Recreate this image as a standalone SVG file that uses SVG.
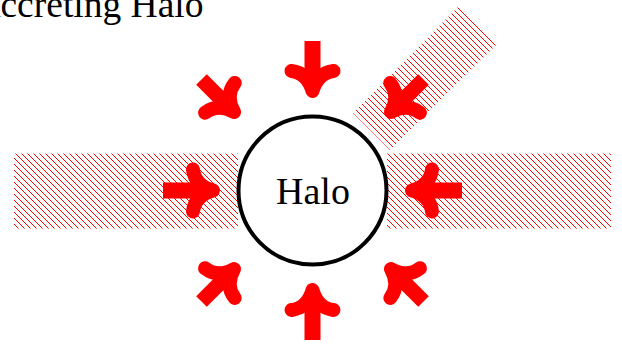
<svg xmlns="http://www.w3.org/2000/svg" xmlns:xlink="http://www.w3.org/1999/xlink" width="622" height="346" viewBox="0 0 622 346">
  <style>
    .txt { font-family: "Liberation Serif", "Times New Roman", serif; fill: #000; }
    .band { fill: url(#hatch); stroke: none; }
    .hl { stroke: #ff0000; stroke-width: 1; shape-rendering: crispEdges; }
    .head { fill: none; stroke: #ff0000; stroke-width: 14; stroke-linecap: round; stroke-linejoin: round; }
    .shaft { fill: #ff0000; }
  </style>
  <defs>
    <pattern id="hatch" x="0" y="0" width="6" height="6" patternUnits="userSpaceOnUse">
      <line class="hl" x1="-1" y1="-1" x2="7" y2="7"/>
      <line class="hl" x1="-1" y1="5" x2="1" y2="7"/>
      <line class="hl" x1="5" y1="-1" x2="7" y2="1"/>
    </pattern>
    <g id="arrow">
      <rect class="shaft" x="-8" y="-50" width="16" height="42"/>
      <path class="head" d="M -21 -20 Q -5 -18 0 0 Q 5 -18 21 -20"/>
    </g>
    <g id="arrowD">
      <rect class="shaft" x="-7.5" y="-46" width="15" height="38"/>
      <path class="head" d="M -21 -20 Q -5 -18 0 0 Q 5 -18 21 -20"/>
    </g>
  </defs>

  <rect width="622" height="346" fill="#ffffff"/>

  <g id="title">
    <text class="txt" x="203.5" y="17" font-size="37.5" text-anchor="end">Accreting Halo</text>
  </g>

  <g id="flows">
    <rect class="band" x="14" y="153.5" width="224" height="75"/>
    <rect class="band" x="387" y="153.5" width="224" height="75"/>
    <polygon class="band" points="458,7 496,45 390,150 353,113"/>
  </g>

  <g id="halo">
    <circle cx="312.5" cy="190.5" r="74" fill="#ffffff" stroke="#000000" stroke-width="4"/>
    <text class="txt" x="313" y="204" font-size="38" text-anchor="middle">Halo</text>
  </g>

  <g id="connectors">
    <use xlink:href="#arrow" transform="translate(312.5 190.5) rotate(0) translate(0 -99.5)"/>
    <use xlink:href="#arrow" transform="translate(312.5 190.5) rotate(90) translate(0 -99.5)"/>
    <use xlink:href="#arrow" transform="translate(312.5 190.5) rotate(180) translate(0 -99.5)"/>
    <use xlink:href="#arrow" transform="translate(312.5 190.5) rotate(270) translate(0 -99.5)"/>
    <use xlink:href="#arrowD" transform="translate(312.5 190.5) rotate(45) translate(0 -111)"/>
    <use xlink:href="#arrowD" transform="translate(312.5 190.5) rotate(135) translate(0 -111)"/>
    <use xlink:href="#arrowD" transform="translate(312.5 190.5) rotate(225) translate(0 -111)"/>
    <use xlink:href="#arrowD" transform="translate(312.5 190.5) rotate(315) translate(0 -111)"/>
  </g>
</svg>
